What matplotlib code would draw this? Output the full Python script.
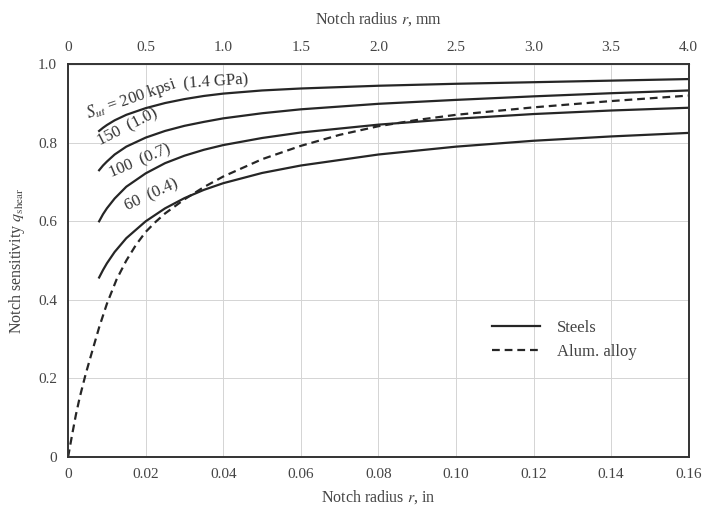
import numpy as np
import matplotlib
matplotlib.use('Agg')
import matplotlib.pyplot as plt

plt.rcParams['font.family'] = ['Liberation Serif', 'DejaVu Serif']
plt.rcParams['mathtext.fontset'] = 'stix'

# Steel curves (notch radius in inches)
r_steel = [0.008, 0.009, 0.010, 0.012, 0.015, 0.020, 0.025, 0.030, 0.035, 0.040,
           0.050, 0.060, 0.080, 0.100, 0.120, 0.140, 0.160]
q_200 = [0.830, 0.838, 0.845, 0.857, 0.871, 0.888, 0.901, 0.911, 0.919, 0.925,
         0.933, 0.938, 0.945, 0.950, 0.954, 0.958, 0.962]
q_150 = [0.730, 0.742, 0.752, 0.770, 0.790, 0.813, 0.830, 0.843, 0.853, 0.862,
         0.875, 0.885, 0.899, 0.909, 0.918, 0.926, 0.933]
q_100 = [0.600, 0.618, 0.633, 0.658, 0.688, 0.722, 0.748, 0.767, 0.782, 0.794,
         0.812, 0.826, 0.846, 0.861, 0.873, 0.882, 0.889]
q_60 = [0.457, 0.476, 0.493, 0.522, 0.557, 0.600, 0.633, 0.659, 0.680, 0.697,
        0.723, 0.742, 0.770, 0.790, 0.805, 0.816, 0.825]

# Aluminium alloy curve
r_alum = [0, 0.001, 0.002, 0.003, 0.0045, 0.006, 0.008, 0.010, 0.0125, 0.015, 0.0175,
          0.020, 0.0225, 0.025, 0.030, 0.035, 0.040, 0.050, 0.060, 0.070, 0.080,
          0.090, 0.100, 0.120, 0.140, 0.160]
q_alum = [0, 0.055, 0.107, 0.152, 0.210, 0.262, 0.330, 0.390, 0.452, 0.500, 0.540,
          0.573, 0.598, 0.620, 0.656, 0.687, 0.714, 0.758, 0.792, 0.820, 0.842,
          0.858, 0.871, 0.890, 0.906, 0.920]

x_ticks = [0, 0.02, 0.04, 0.06, 0.08, 0.10, 0.12, 0.14, 0.16]
x_labels = ['0', '0.02', '0.04', '0.06', '0.08', '0.10', '0.12', '0.14', '0.16']
y_ticks = [0, 0.2, 0.4, 0.6, 0.8, 1.0]
y_labels = ['0', '0.2', '0.4', '0.6', '0.8', '1.0']
mm_ticks = [0, 0.5, 1.0, 1.5, 2.0, 2.5, 3.0, 3.5, 4.0]
mm_labels = ['0', '0.5', '1.0', '1.5', '2.0', '2.5', '3.0', '3.5', '4.0']

ink = '#262626'
txt = '#444444'
fig = plt.figure(figsize=(7.02, 5.09), dpi=100)
ax = fig.add_axes([0.097, 0.102, 0.884, 0.772])

ax.plot(r_steel, q_200, color=ink, lw=1.6, label='Steels')
ax.plot(r_steel, q_150, color=ink, lw=1.6)
ax.plot(r_steel, q_100, color=ink, lw=1.6)
ax.plot(r_steel, q_60, color=ink, lw=1.6)
ax.plot(r_alum, q_alum, color=ink, lw=1.6, linestyle=(0, (3.5, 2.2)), label='Alum. alloy')

ax.set_xlim(0, 0.16)
ax.set_ylim(0, 1.0)
ax.set_xticks(x_ticks)
ax.set_xticklabels(x_labels)
ax.set_yticks(y_ticks)
ax.set_yticklabels(y_labels)
ax.tick_params(length=0, labelsize=11, colors=txt, pad=8)
ax.grid(color='#d4d4d4', lw=0.7)
for s in ax.spines.values():
    s.set_color('#333333')
    s.set_linewidth(1.4)

top = ax.secondary_xaxis('top', functions=(lambda x: x * 25, lambda x: x / 25))
top.set_xticks(mm_ticks)
top.set_xticklabels(mm_labels)
top.tick_params(length=0, labelsize=11, colors=txt, pad=7)
top.set_xlabel('Notch radius $r$, mm', fontsize=11.5, color=txt, labelpad=13)

ax.set_xlabel('Notch radius $r$, in', fontsize=11.5, color=txt, labelpad=5)
ax.set_ylabel(r'Notch sensitivity $q_\mathrm{shear}$', fontsize=11.5, color=txt, labelpad=8)

# curve labels
tk = dict(fontsize=12, color='#333333', rotation_mode='anchor', ha='left', va='baseline')
ax.text(0.0052, 0.862, '$S_{ut}$ = 200 kpsi', rotation=19, **tk)
ax.text(0.0298, 0.937, '(1.4 GPa)', rotation=4, **tk)
ax.text(0.0082, 0.793, '150  (1.0)', rotation=27, **tk)
ax.text(0.0113, 0.712, '100  (0.7)', rotation=23, **tk)
ax.text(0.0152, 0.628, '60  (0.4)', rotation=25, **tk)

ax.legend(loc='center left', bbox_to_anchor=(0.683, 0.298), frameon=False,
          borderpad=0, borderaxespad=0, handlelength=2.9, handletextpad=1.0,
          labelspacing=0.45, fontsize=12, labelcolor=txt)

fig.savefig('out.png', dpi=100)
